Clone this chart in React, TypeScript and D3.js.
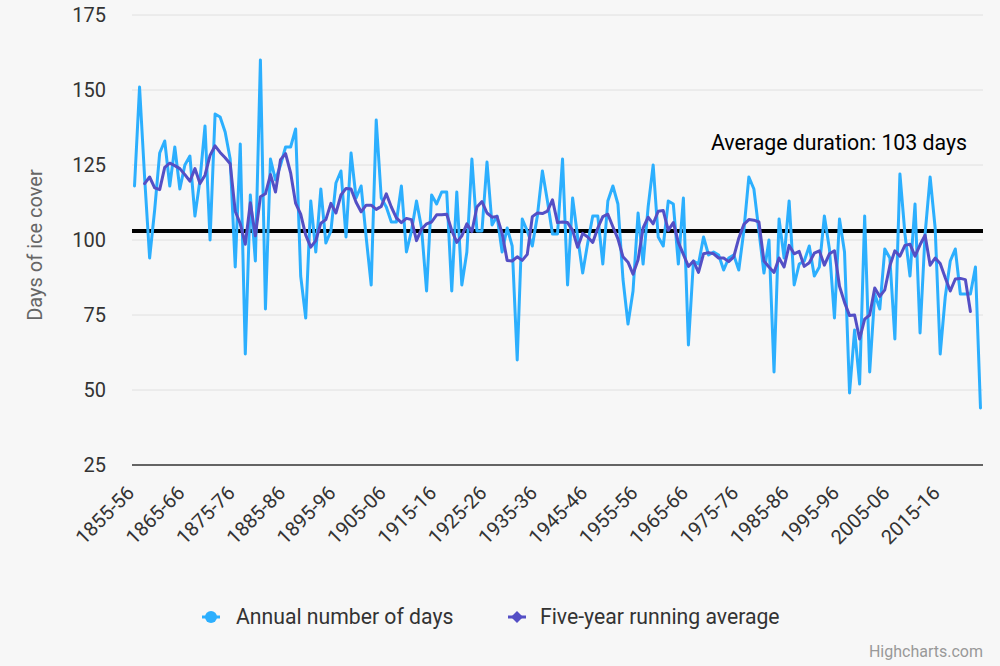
import React from "react";
import * as d3 from "d3";

// ---- Data ----
const START_YEAR = 1855;

const annualDays: number[] = [
  118, 151, 121, 94, 110, 129, 133, 118, 131, 117,
  125, 128, 108, 120, 138, 100, 142, 141, 136, 127,
  91, 132, 62, 115, 93, 160, 77, 127, 120, 125,
  131, 131, 137, 88, 74, 113, 96, 117, 99, 103,
  119, 123, 101, 129, 114, 118, 101, 85, 140, 114,
  111, 106, 106, 118, 96, 103, 113, 104, 83, 115,
  112, 116, 116, 83, 116, 85, 96, 127, 103, 103,
  126, 105, 108, 96, 104, 98, 60, 107, 103, 98,
  108, 123, 113, 102, 102, 127, 85, 114, 101, 89,
  99, 108, 108, 92, 113, 118, 112, 87, 72, 83,
  109, 92, 111, 125, 101, 98, 113, 112, 92, 114,
  65, 93, 92, 101, 95, 96, 95, 90, 94, 95,
  90, 103, 121, 117, 103, 89, 100, 56, 107, 94,
  113, 85, 92, 93, 98, 88, 91, 108, 97, 74,
  107, 96, 49, 70, 52, 108, 56, 82, 77, 97,
  94, 67, 122, 102, 88, 112, 69, 102, 121, 104,
  62, 81, 93, 97, 82, 82, 82, 91, 44,
];

const yTicks: number[] = [25, 50, 75, 100, 125, 150, 175];
const xTickLabels: string[] = [
  "1855-56", "1865-66", "1875-76", "1885-86", "1895-96", "1905-06",
  "1915-16", "1925-26", "1935-36", "1945-46", "1955-56", "1965-66",
  "1975-76", "1985-86", "1995-96", "2005-06", "2015-16",
];
const AVERAGE_DURATION = 103;
const seriesNames = ["Annual number of days", "Five-year running average"];
const yAxisTitle = "Days of ice cover";
const plotLineLabel = "Average duration: 103 days";

// season categories
const seasons: string[] = annualDays.map((_, i) => {
  const y = START_YEAR + i;
  return `${y}-${String((y + 1) % 100).padStart(2, "0")}`;
});

// centered five-year running average of the annual values
const runningAvg: (number | null)[] = annualDays.map((_, i) =>
  i < 2 || i > annualDays.length - 3
    ? null
    : (d3.mean(annualDays.slice(i - 2, i + 3)) as number)
);

const W = 1000;
const H = 666;
const PLOT_L = 132;
const PLOT_R = 983;
const PLOT_T = 15;
const PLOT_B = 465;

const COLOR_A = "#2caffe";
const COLOR_B = "#544fc5";
const FONT = "Roboto, 'Noto Sans', sans-serif";

export default function App() {
  const x = d3
    .scalePoint<string>()
    .domain(seasons)
    .range([PLOT_L, PLOT_R])
    .padding(0.5);
  const y = d3.scaleLinear().domain([25, 175]).range([PLOT_B, PLOT_T]);

  const lineA = d3
    .line<number>()
    .x((_, i) => x(seasons[i]) as number)
    .y((d) => y(d));
  const lineB = d3
    .line<number | null>()
    .defined((d) => d !== null)
    .x((_, i) => x(seasons[i]) as number)
    .y((d) => y(d as number));

  const legendY = 617;

  return (
    <svg
      width={W}
      height={H}
      style={{ position: "absolute", left: 0, top: 0, display: "block" }}
      fontFamily={FONT}
    >
      <rect x={0} y={0} width={W} height={H} fill="#f7f7f7" />

      {/* grid */}
      {yTicks.map((t) => (
        <line
          key={"g" + t}
          x1={PLOT_L}
          x2={PLOT_R}
          y1={y(t)}
          y2={y(t)}
          stroke={t === 25 ? "#333333" : "#e0e0e0"}
          strokeWidth={t === 25 ? 1.5 : 1}
        />
      ))}

      {/* y labels */}
      {yTicks.map((t) => (
        <text
          key={"yl" + t}
          x={106}
          y={y(t)}
          dy="0.35em"
          textAnchor="end"
          fontSize={20}
          fill="#333333"
        >
          {t}
        </text>
      ))}

      {/* y title */}
      <text
        transform={`translate(42,${(PLOT_T + PLOT_B) / 2 + 5}) rotate(-90)`}
        textAnchor="middle"
        fontSize={20}
        fill="#666666"
      >
        {yAxisTitle}
      </text>

      {/* x labels */}
      {xTickLabels.map((lab) => {
        const px = x(lab) as number;
        return (
          <text
            key={"xl" + lab}
            transform={`translate(${px + 1},${PLOT_B + 29}) rotate(-45)`}
            textAnchor="end"
            fontSize={20}
            fill="#333333"
          >
            {lab}
          </text>
        );
      })}

      {/* plot line */}
      <line
        x1={PLOT_L}
        x2={PLOT_R}
        y1={y(AVERAGE_DURATION)}
        y2={y(AVERAGE_DURATION)}
        stroke="#000000"
        strokeWidth={4}
      />
      <text x={711} y={150} fontSize={21.3} fill="#000000">
        {plotLineLabel}
      </text>

      {/* series */}
      <path
        d={lineA(annualDays) || ""}
        fill="none"
        stroke={COLOR_A}
        strokeWidth={3}
        strokeLinejoin="round"
        strokeLinecap="round"
      />
      <path
        d={lineB(runningAvg) || ""}
        fill="none"
        stroke={COLOR_B}
        strokeWidth={3}
        strokeLinejoin="round"
        strokeLinecap="round"
      />

      {/* legend */}
      <g>
        <line x1={202} x2={220} y1={legendY} y2={legendY} stroke={COLOR_A} strokeWidth={3} />
        <circle cx={211} cy={legendY} r={6} fill={COLOR_A} />
        <text x={236} y={legendY} dy="0.35em" fontSize={21.2} fill="#333333">
          {seriesNames[0]}
        </text>
        <line x1={508} x2={526} y1={legendY} y2={legendY} stroke={COLOR_B} strokeWidth={3} />
        <path
          d={`M517,${legendY - 6}L523,${legendY}L517,${legendY + 6}L511,${legendY}Z`}
          fill={COLOR_B}
        />
        <text x={540} y={legendY} dy="0.35em" fontSize={21.2} fill="#333333">
          {seriesNames[1]}
        </text>
      </g>

      {/* credits */}
      <text x={983} y={657} textAnchor="end" fontSize={16} fill="#999999">
        Highcharts.com
      </text>
    </svg>
  );
}
